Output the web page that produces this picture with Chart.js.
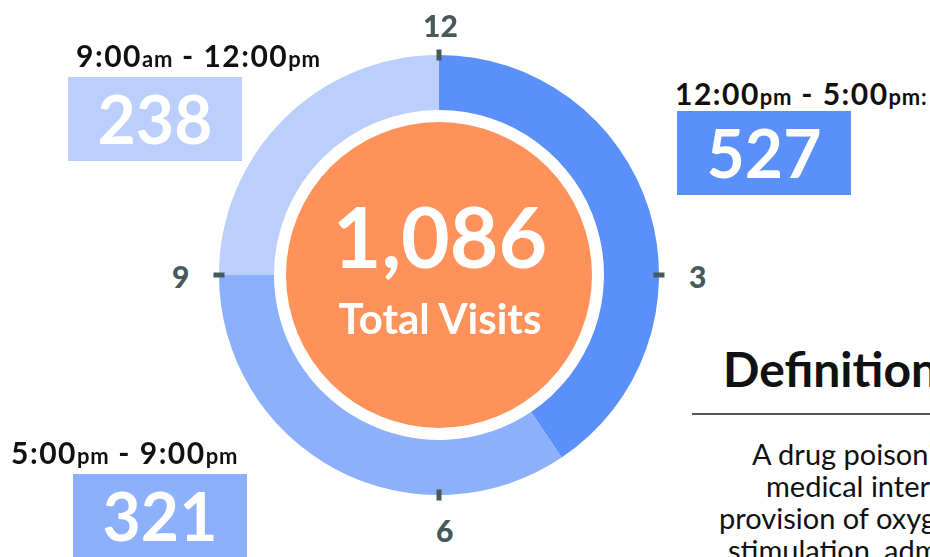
<!DOCTYPE html>
<html>
<head>
<meta charset="utf-8">
<script src="https://cdn.jsdelivr.net/npm/chart.js@4.4.1/dist/chart.umd.min.js"></script>
<style>
  html, body { margin: 0; padding: 0; background: #fff; }
  body { width: 930px; height: 557px; position: relative; overflow: hidden; font-family: 'Lato', sans-serif; }
  #wrap { position: absolute; left: 204px; top: 40px; width: 470px; height: 470px; }
  .range { position: absolute; font-weight: 700; font-size: 30px; letter-spacing: 1.5px; color: #111; white-space: nowrap; line-height: 1; }
  .range small { font-size: 22px; letter-spacing: 0.8px; }
  .box { position: absolute; width: 174px; height: 84px; color: #fff; font-weight: 700; font-size: 66px;
         text-align: center; line-height: 84px; }
  .center { position: absolute; left: 287px; top: 122px; width: 306px; height: 306px; text-align: center; color: #fff; }
  .center .big { position: absolute; left: 0; right: 0; top: 72px; font-size: 84px; font-weight: 700; line-height: 1; }
  .center .sub { position: absolute; left: 0; right: 0; top: 175px; font-size: 42px; font-weight: 700; line-height: 1; }
  .clock { position: absolute; font-weight: 900; font-size: 30px; color: #475a59; line-height: 1; }
  #def { position: absolute; left: 723px; top: 345px; font-size: 48px; font-weight: 700; color: #111; white-space: nowrap; line-height: 1; }
  #rule { position: absolute; left: 692px; top: 413px; width: 260px; height: 2px; background: #555; }
  .para { position: absolute; font-size: 29px; color: #111; white-space: nowrap; line-height: 1; }
</style>
</head>
<body>
<div id="wrap"><canvas id="clockChart"></canvas></div>

<div class="range" id="r0" style="left:675px; top:78px;"></div>
<div class="range" id="r1" style="left:11px; top:437px;"></div>
<div class="range" id="r2" style="left:76px; top:40px;"></div>

<div class="box" id="b0" style="left:677px; top:111px;"></div>
<div class="box" id="b1" style="left:73px; top:474px;"></div>
<div class="box" id="b2" style="left:68px; top:77px;"></div>

<div class="center">
  <div class="big" id="total"></div>
  <div class="sub">Total Visits</div>
</div>

<div class="clock" style="left:423px; top:10px;">12</div>
<div class="clock" style="left:689px; top:261px;">3</div>
<div class="clock" style="left:436px; top:515px;">6</div>
<div class="clock" style="left:172px; top:261px;">9</div>

<div id="def">Definitions</div>
<div id="rule"></div>
<div class="para" style="left:752px; top:439px;">A drug poisoning is defined as</div>
<div class="para" style="left:766px; top:471px;">medical intervention such as</div>
<div class="para" style="left:719px; top:503px;">provision of oxygen, ventilation,</div>
<div class="para" style="left:728px; top:535px;">stimulation, administration of</div>

<script>
// time slots, clockwise from 12 o'clock
const slots      = ['12:00|pm - 5:00|pm:', '5:00|pm - 9:00|pm', '9:00|am - 12:00|pm'];
const slotHours  = [4.87, 4.13, 3];    // arc length of each slot on the clock face
const visits     = [527, 321, 238];
const slotColors = ['#5b8ff9', '#8cb0fc', '#bbcefc'];
const tickHours  = [0, 3, 6, 9];

const total = visits.reduce((a, b) => a + b, 0);
document.getElementById('total').textContent = total.toLocaleString('en-US');

slots.forEach((s, i) => {
  const p = s.split('|');
  document.getElementById('r' + i).innerHTML =
    p[0] + '<small>' + p[1].split(' ')[0] + '</small> ' + p[1].slice(p[1].indexOf(' ') + 1) + '<small>' + p[2] + '</small>';
  const b = document.getElementById('b' + i);
  b.textContent = visits[i];
  b.style.background = slotColors[i];
});

// orange disc in the hole + clock tick marks
const faceDecor = {
  id: 'faceDecor',
  afterDatasetsDraw(chart) {
    const arc = chart.getDatasetMeta(0).data[0];
    const { x, y, outerRadius, innerRadius } = arc.getProps(['x', 'y', 'outerRadius', 'innerRadius'], true);
    const ctx = chart.ctx;
    ctx.save();
    ctx.fillStyle = '#ff915a';
    ctx.beginPath();
    ctx.arc(x, y, innerRadius - 12, 0, Math.PI * 2);
    ctx.fill();
    ctx.fillStyle = '#475a59';
    tickHours.forEach(h => {
      const a = h / 12 * Math.PI * 2 - Math.PI / 2;
      ctx.save();
      ctx.translate(x + Math.cos(a) * outerRadius, y + Math.sin(a) * outerRadius);
      ctx.rotate(a);
      ctx.fillRect(-5.5, -2.5, 11, 5);
      ctx.restore();
    });
    ctx.restore();
  }
};

new Chart(document.getElementById('clockChart'), {
  type: 'doughnut',
  data: {
    labels: slots,
    datasets: [{
      data: slotHours,
      backgroundColor: slotColors,
      borderWidth: 0,
      hoverOffset: 0
    }]
  },
  options: {
    responsive: true,
    maintainAspectRatio: false,
    animation: false,
    cutout: '75%',
    layout: { padding: 15 },
    plugins: { legend: { display: false }, tooltip: { enabled: false } }
  },
  plugins: [faceDecor]
});
</script>
</body>
</html>
